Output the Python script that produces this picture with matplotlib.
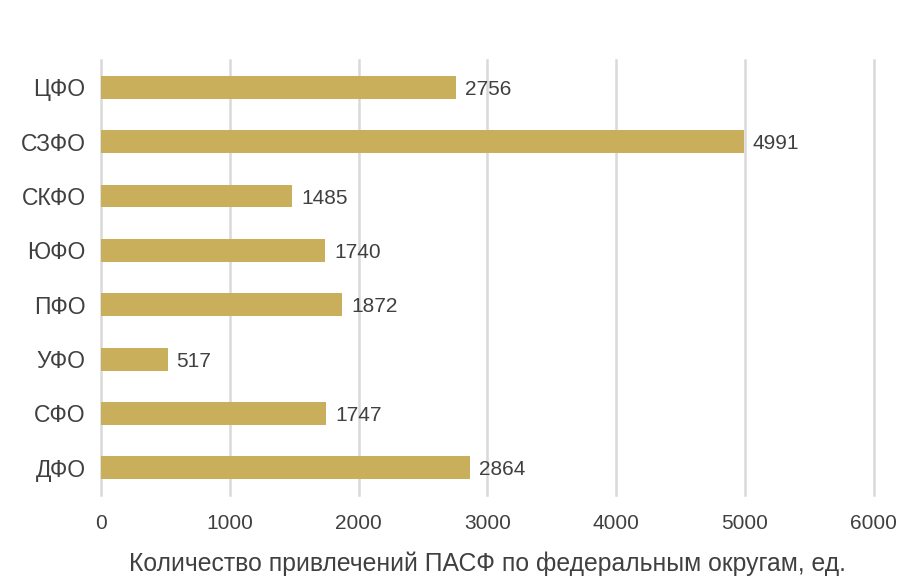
import matplotlib.pyplot as plt

regions = ['ЦФО', 'СЗФО', 'СКФО', 'ЮФО', 'ПФО', 'УФО', 'СФО', 'ДФО']
counts = [2756, 4991, 1485, 1740, 1872, 517, 1747, 2864]

plt.rcParams['font.family'] = ['Liberation Sans', 'DejaVu Sans']
text_color = '#404040'

fig = plt.figure(figsize=(9.04, 5.78), dpi=100)
ax = fig.add_axes([0.1117, 0.1436, 0.855, 0.7524])

ypos = list(range(len(regions)))
ax.barh(ypos, counts, height=0.42, color='#C9AE5C', zorder=3)

for y, v in zip(ypos, counts):
    ax.text(v + 70, y, str(v), va='center_baseline', ha='left', fontsize=15, color=text_color)

ax.set_xlim(0, 6000)
ax.set_ylim(len(regions) - 0.5, -0.5)
ax.set_yticks(ypos)
ax.set_yticklabels(regions)
ax.set_xticks(range(0, 6001, 1000))
ax.tick_params(axis='both', length=0, labelsize=15, labelcolor=text_color)
ax.tick_params(axis='y', pad=11, labelsize=16.5)
ax.tick_params(axis='x', pad=14)
ax.grid(axis='x', color='#d9d9d9', linewidth=1.8, zorder=0)
for line in ax.get_xgridlines():
    line.set_clip_on(False)
for s in ax.spines.values():
    s.set_visible(False)

ax.set_xlabel('Количество привлечений ПАСФ по федеральным округам, ед.',
              fontsize=17.8, color=text_color, labelpad=13)

plt.savefig('out.png', dpi=100)
